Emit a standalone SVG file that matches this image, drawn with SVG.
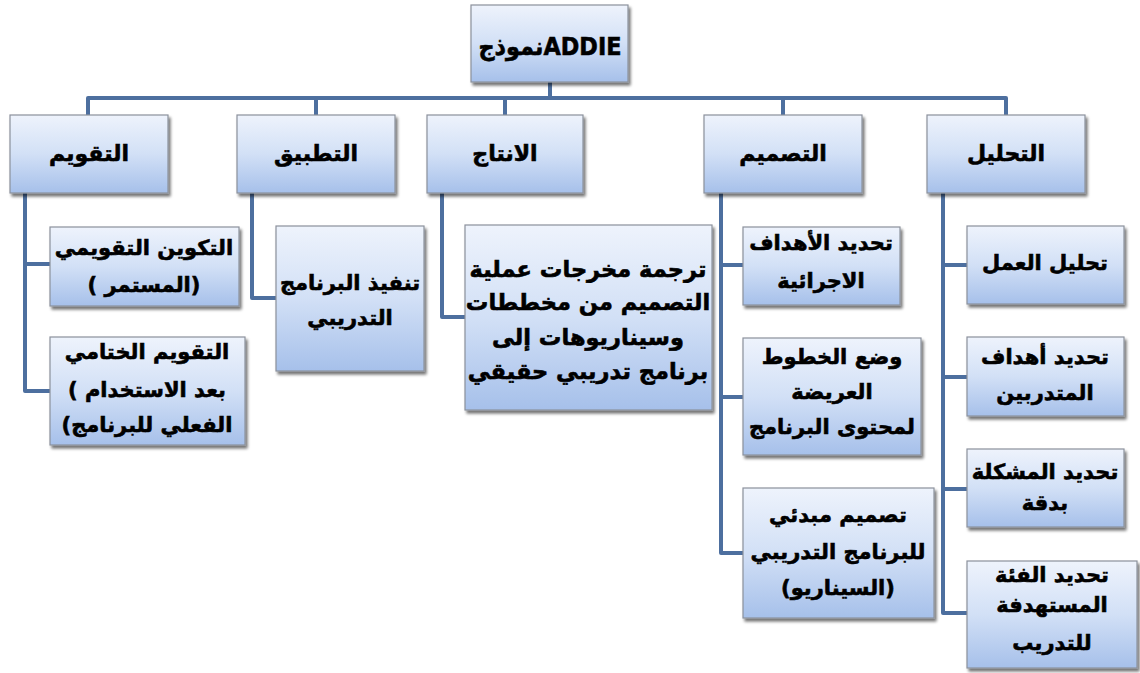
<svg xmlns="http://www.w3.org/2000/svg" width="1140" height="673" viewBox="0 0 1140 673">
<defs>
<linearGradient id="g" x1="0" y1="0" x2="0" y2="1">
<stop offset="0" stop-color="#eef3fc"/>
<stop offset="0.5" stop-color="#d2e0f6"/>
<stop offset="1" stop-color="#a6c0ea"/>
</linearGradient>
<filter id="sh" x="-10%" y="-10%" width="125%" height="130%">
<feGaussianBlur in="SourceAlpha" stdDeviation="1.5"/>
<feOffset dx="1.5" dy="2.5" result="b"/>
<feComponentTransfer><feFuncA type="linear" slope="0.55"/></feComponentTransfer>
<feMerge><feMergeNode/><feMergeNode in="SourceGraphic"/></feMerge>
</filter>
</defs>
<style>
.box{fill:url(#g);stroke:#8b919c;stroke-width:1.2;filter:url(#sh)}
.t{font-family:"DejaVu Sans",sans-serif;font-weight:bold;fill:#000;stroke:#000;stroke-width:0.6;text-anchor:middle}
.l1{font-size:22px}
.c{font-size:21px}
.ln{fill:none;stroke:#4d6f9f;stroke-width:4;stroke-linejoin:round}
</style>
<g id="connectors">
<path class="ln" d="M550 82 V98"/>
<path class="ln" d="M88 115 V98 H1006 V115"/>
<path class="ln" d="M316 98 V115 M505 98 V115 M783 98 V115"/>
<path class="ln" d="M25 193 V391 H50 M25 264 H50"/>
<path class="ln" d="M252 193 V298 H276"/>
<path class="ln" d="M442 193 V317 H465"/>
<path class="ln" d="M721 193 V553 H743 M721 265 H743 M721 397 H743"/>
<path class="ln" d="M943 193 V613 H967 M943 265 H967 M943 377 H967 M943 489 H967"/>
</g>
<g id="root">
<rect class="box" x="471" y="5" width="157" height="77"/>
<text class="t" x="550" y="55" font-size="25" textLength="143" lengthAdjust="spacingAndGlyphs">نموذجADDIE</text>
</g>
<g id="taqweem">
<rect class="box" x="10" y="115" width="158" height="78"/>
<text class="t l1" x="89" y="161">التقويم</text>
</g>
<g id="tatbeeq">
<rect class="box" x="237" y="115" width="158" height="78"/>
<text class="t l1" x="316" y="161">التطبيق</text>
</g>
<g id="intaj">
<rect class="box" x="427" y="115" width="156" height="78"/>
<text class="t l1" x="505" y="161">الانتاج</text>
</g>
<g id="tasmeem">
<rect class="box" x="704" y="115" width="158" height="78"/>
<text class="t l1" x="783" y="161">التصميم</text>
</g>
<g id="tahleel">
<rect class="box" x="927" y="115" width="158" height="78"/>
<text class="t l1" x="1006" y="161">التحليل</text>
</g>
<g id="takween">
<rect class="box" x="50" y="227" width="189" height="79"/>
<text class="t c" x="144" y="255" direction="rtl">التكوين التقويمي</text>
<text class="t c" x="144" y="292" direction="rtl">(المستمر )</text>
</g>
<g id="khitami">
<rect class="box" x="50" y="337" width="195" height="108"/>
<text class="t c" x="147" y="359" direction="rtl">التقويم الختامي</text>
<text class="t c" x="147" y="397" direction="rtl">بعد الاستخدام )</text>
<text class="t c" x="147" y="432" direction="rtl">الفعلي للبرنامج)</text>
</g>
<g id="tanfeeth">
<rect class="box" x="276" y="226" width="148" height="145"/>
<text class="t c" x="350" y="290">تنفيذ البرنامج</text>
<text class="t c" x="350" y="325">التدريبي</text>
</g>
<g id="tarjama">
<rect class="box" x="465" y="225" width="247" height="185"/>
<text class="t" font-size="22.5" x="588" y="277">ترجمة مخرجات عملية</text>
<text class="t" font-size="22.5" x="588" y="310">التصميم من مخططات</text>
<text class="t" font-size="22.5" x="588" y="345">وسيناريوهات إلى</text>
<text class="t" font-size="22.5" x="588" y="379">برنامج تدريبي حقيقي</text>
</g>
<g id="ahdaf-ijraiya">
<rect class="box" x="743" y="227" width="157" height="78"/>
<text class="t c" x="821" y="250">تحديد الأهداف</text>
<text class="t c" x="821" y="288">الاجرائية</text>
</g>
<g id="khutut">
<rect class="box" x="743" y="338" width="178" height="117"/>
<text class="t c" x="832" y="364">وضع الخطوط</text>
<text class="t c" x="832" y="399">العريضة</text>
<text class="t c" x="832" y="434">لمحتوى البرنامج</text>
</g>
<g id="tasmeem-mabdai">
<rect class="box" x="743" y="488" width="191" height="130"/>
<text class="t c" x="838" y="522">تصميم مبدئي</text>
<text class="t c" x="838" y="559">للبرنامج التدريبي</text>
<text class="t c" x="838" y="595" direction="rtl">(السيناريو)</text>
</g>
<g id="tahleel-amal">
<rect class="box" x="967" y="226" width="157" height="78"/>
<text class="t c" x="1045" y="270">تحليل العمل</text>
</g>
<g id="ahdaf-mutadarribeen">
<rect class="box" x="967" y="337" width="157" height="79"/>
<text class="t c" x="1045" y="364">تحديد أهداف</text>
<text class="t c" x="1045" y="400">المتدربين</text>
</g>
<g id="mushkila">
<rect class="box" x="967" y="449" width="157" height="78"/>
<text class="t c" x="1045" y="479">تحديد المشكلة</text>
<text class="t c" x="1045" y="510">بدقة</text>
</g>
<g id="fiaa">
<rect class="box" x="967" y="561" width="170" height="107"/>
<text class="t c" x="1052" y="582">تحديد الفئة</text>
<text class="t c" x="1052" y="612">المستهدفة</text>
<text class="t c" x="1052" y="650">للتدريب</text>
</g>
</svg>
